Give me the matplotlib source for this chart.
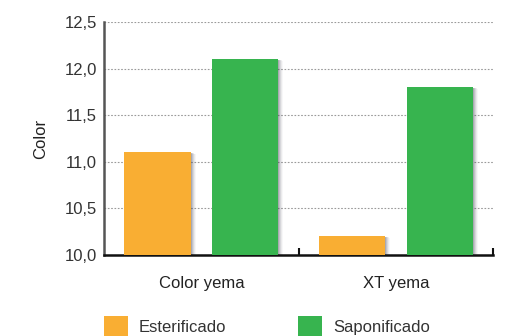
import matplotlib
matplotlib.use("Agg")
import matplotlib.pyplot as plt
import matplotlib.transforms as mtransforms
from matplotlib.ticker import FuncFormatter, MultipleLocator
import numpy as np

plt.rcParams['font.family'] = ['Liberation Sans', 'DejaVu Sans']

categories = ["Color yema", "XT yema"]
series_names = ["Esterificado", "Saponificado"]
esterificado = [11.1, 10.2]
saponificado = [12.1, 11.8]
colors = ["#F9AE33", "#37B44F"]

FS = 12

fig = plt.figure(figsize=(5.10, 3.36), dpi=100)
ax = fig.add_axes([0.204, 0.241, 0.763, 0.6935])

x = np.arange(len(categories))
width = 0.34
offsets = [-0.225, 0.225]
base = 10.0

for vals, off, col, name in zip([esterificado, saponificado], offsets, colors, series_names):
    heights = [v - base for v in vals]
    # soft drop shadow
    for dx, a in [(1, 0.18), (2, 0.14), (3, 0.10), (4, 0.07), (5, 0.04)]:
        tr = mtransforms.offset_copy(ax.transData, fig=fig, x=dx * 0.72, y=-dx * 0.2, units='points')
        ax.bar(x + off, heights, width, bottom=base, color='#404050', alpha=a,
               transform=tr, zorder=2, linewidth=0)
    ax.bar(x + off, heights, width, bottom=base, color=col, label=name, zorder=3, linewidth=0)

ax.set_xlim(-0.5, 1.5)
ax.set_ylim(10.0, 12.5)
ax.yaxis.set_major_locator(MultipleLocator(0.5))
ax.yaxis.set_major_formatter(FuncFormatter(lambda v, p: f"{v:.1f}".replace('.', ',')))
ax.grid(axis='y', linestyle=(0, (1.5, 1.5)), color='#9a9a9a', linewidth=0.8, zorder=0)
ax.set_axisbelow(True)

ax.set_xticks([0.5, 1.5], minor=False)
ax.set_xticklabels([])
ax.tick_params(axis='x', direction='in', length=5, width=1.5, color='#111111')
ax.set_xticks(x, minor=True)
ax.set_xticklabels(categories, minor=True, fontsize=FS, color='#222222')
ax.tick_params(axis='x', which='minor', length=0, pad=15)
ax.tick_params(axis='y', length=0, labelsize=FS, labelcolor='#333333', pad=5)

for s in ['top', 'right']:
    ax.spines[s].set_visible(False)
ax.spines['left'].set_color('#555555')
ax.spines['left'].set_linewidth(1.8)
ax.spines['bottom'].set_color('#111111')
ax.spines['bottom'].set_linewidth(1.8)

ax.set_ylabel("Color", fontsize=FS, color='#222222', labelpad=12)

handles, labels = ax.get_legend_handles_labels()
fig.legend(handles[-2:], labels[-2:], loc='upper left', bbox_to_anchor=(0.204, 0.06),
           ncol=2, frameon=False, fontsize=FS, handlelength=1.44, handleheight=1.5,
           handletextpad=0.66, columnspacing=4.3, labelcolor='#333333',
           borderpad=0, borderaxespad=0)

fig.savefig("out.png", dpi=100)
